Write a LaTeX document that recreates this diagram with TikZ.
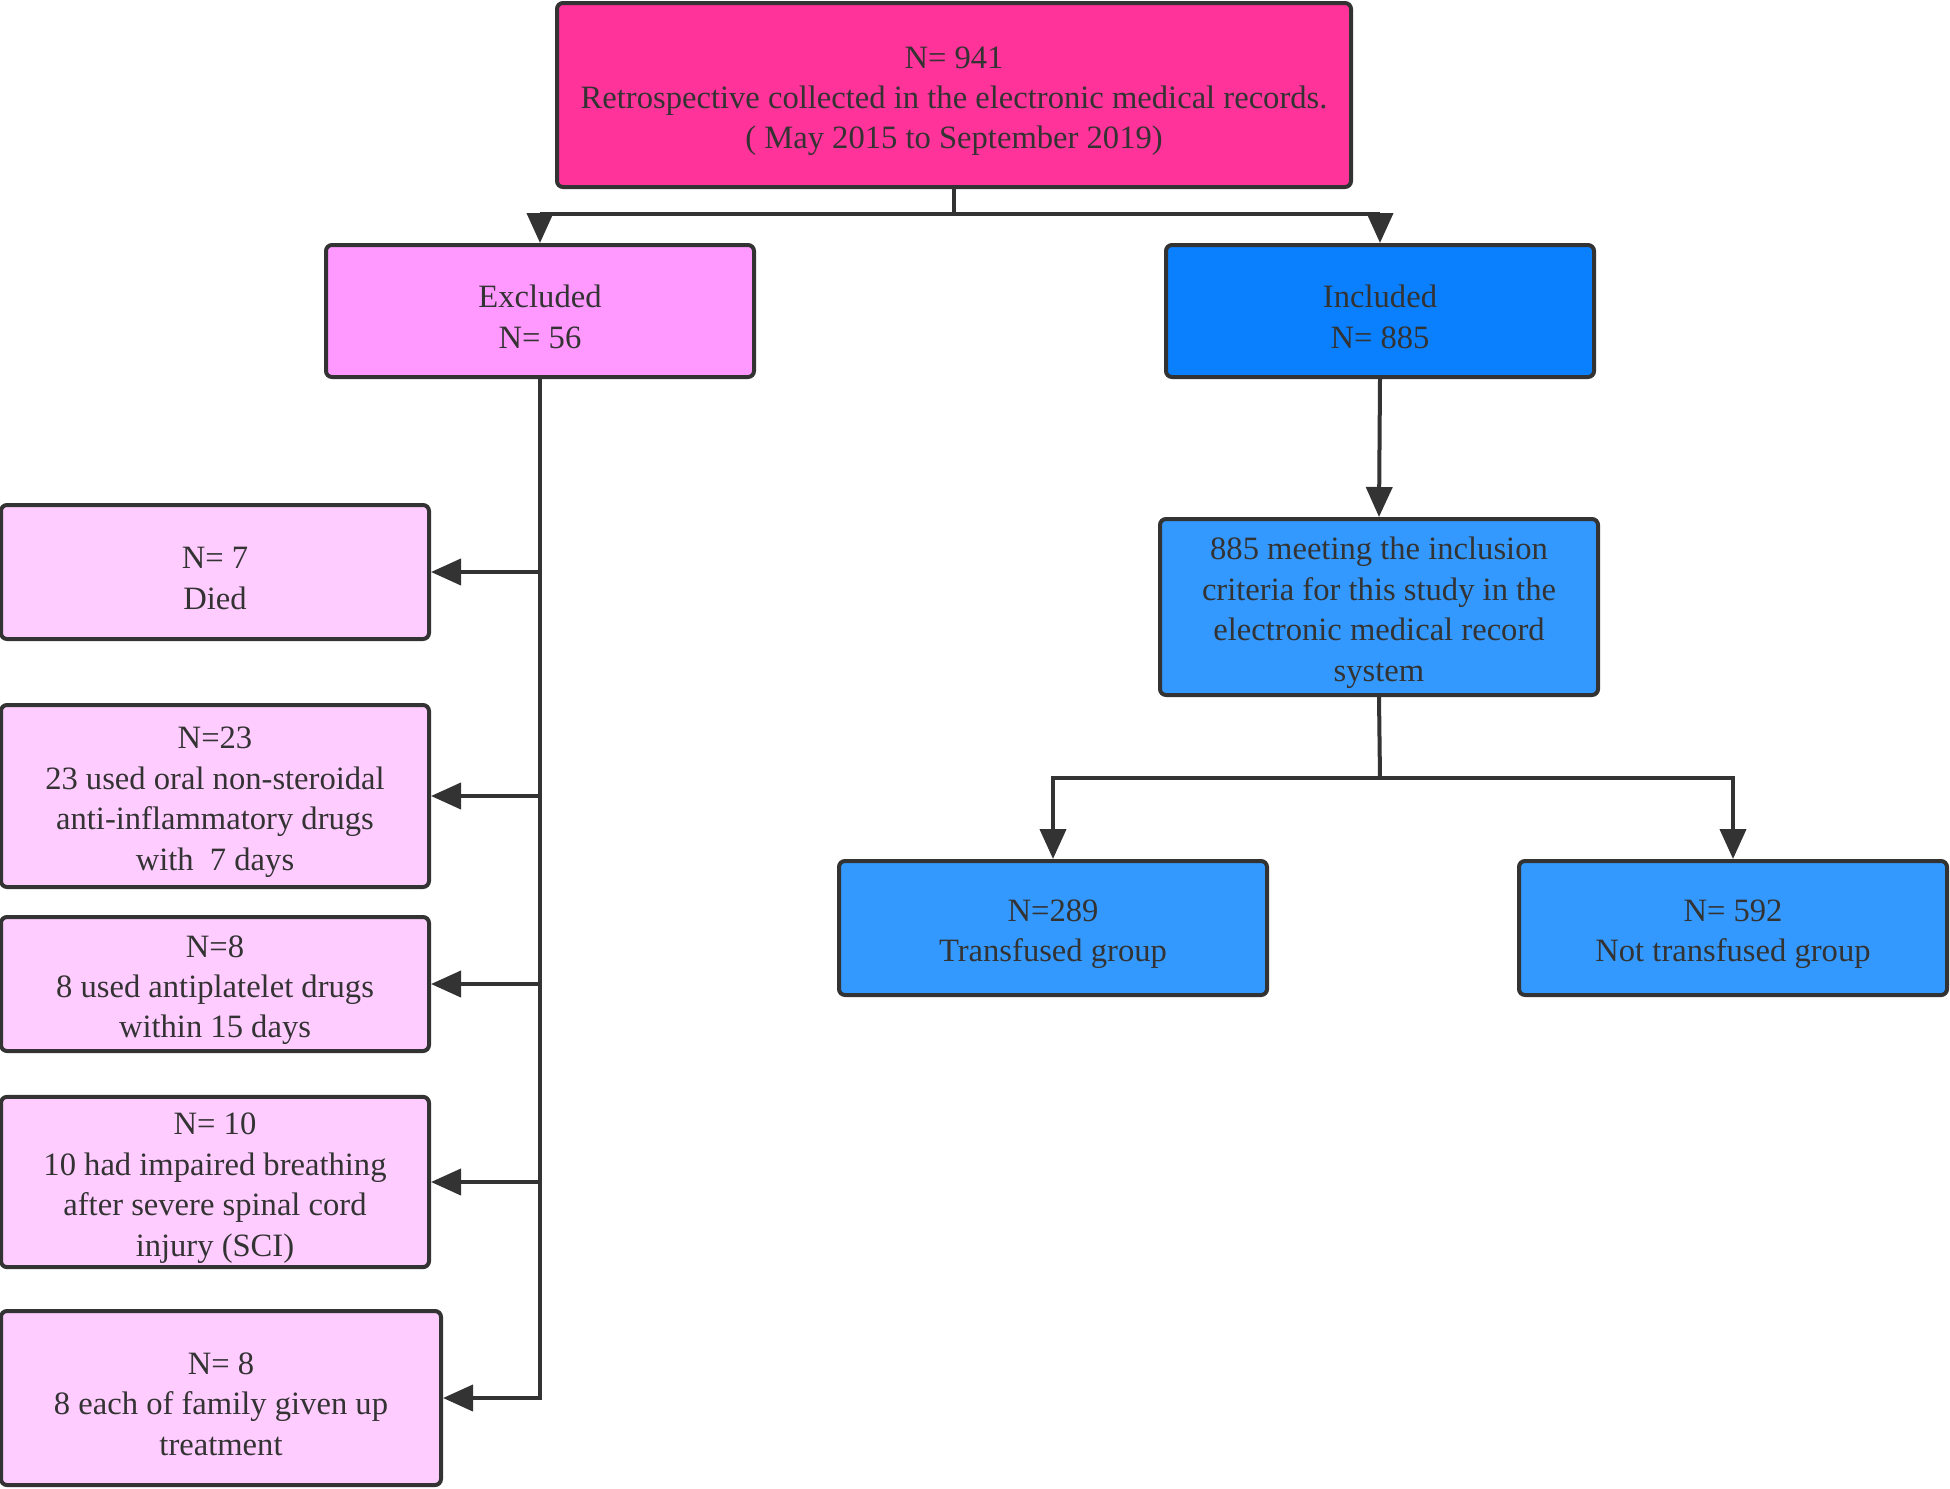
\documentclass[tikz,border=0pt]{standalone}
\usepackage{fontspec}
\setmainfont{Liberation Serif}
\usepackage{tikz}
\usetikzlibrary{arrows.meta}
\definecolor{linegray}{HTML}{333333}
\definecolor{hotpink}{HTML}{FF3399}
\definecolor{exclpink}{HTML}{FF99FF}
\definecolor{lightpink}{HTML}{FFCCFF}
\definecolor{inclblue}{HTML}{0A80FF}
\definecolor{midblue}{HTML}{3399FF}
% pushes the lines of a box a little lower
\newcommand{\lowtext}{\rule{0pt}{17pt}}
\tikzset{
    flowbox/.style={draw=linegray, line width=2pt, rounded corners=3pt, align=center,
        text=linegray, font=\fontsize{16.3}{20.2}\selectfont, inner sep=2pt},
    arr/.style={draw=linegray, line width=2pt, -{Triangle[length=15pt,width=13pt]}},
    plain/.style={draw=linegray, line width=2pt}
}
\begin{document}
\begin{tikzpicture}[x=0.5pt,y=-0.5pt]
\useasboundingbox (0,0) rectangle (1950,1489);

\node[flowbox, fill=hotpink, minimum width=397pt, minimum height=92pt] (top) at (954,95)
    {\lowtext N= 941\\Retrospective collected in the electronic medical records.\\( May 2015 to September 2019)};

\node[flowbox, fill=exclpink, minimum width=214pt, minimum height=66pt] (excl) at (540,311) {\lowtext Excluded\\N= 56};
\node[flowbox, fill=inclblue, minimum width=214pt, minimum height=66pt] (incl) at (1380,311) {\lowtext Included\\N= 885};

\node[flowbox, fill=lightpink, minimum width=214pt, minimum height=67pt] (died) at (215,572) {\lowtext N= 7\\Died};
\node[flowbox, fill=lightpink, minimum width=214pt, minimum height=91pt] (nsaid) at (215,796)
    {\lowtext N=23\\23 used oral non-steroidal\\anti-inflammatory drugs\\with\ \ 7 days};
\node[flowbox, fill=lightpink, minimum width=214pt, minimum height=67pt] (antip) at (215,984)
    {\lowtext N=8\\8 used antiplatelet drugs\\within 15 days};
\node[flowbox, fill=lightpink, minimum width=214pt, minimum height=85pt] (breath) at (215,1182)
    {\lowtext N= 10\\10 had impaired breathing\\after severe spinal cord\\injury (SCI)};
\node[flowbox, fill=lightpink, minimum width=220pt, minimum height=87pt] (family) at (221,1398)
    {\lowtext N= 8\\8 each of family given up\\treatment};

\node[flowbox, fill=midblue, minimum width=219pt, minimum height=88pt] (crit) at (1379,607)
    {\lowtext 885 meeting the inclusion\\criteria for this study in the\\electronic medical record\\system};
\node[flowbox, fill=midblue, minimum width=214pt, minimum height=67pt] (transf) at (1053,928) {\lowtext N=289\\Transfused group};
\node[flowbox, fill=midblue, minimum width=214pt, minimum height=67pt] (nottr) at (1733,928) {\lowtext N= 592\\Not transfused group};

\coordinate (split) at (954,214);
\coordinate (fork) at (1380,778);

% top split
\draw[plain] (top.south) -- (split);
\draw[arr] (split) -| (excl.north);
\draw[arr] (split) -| (incl.north);

% excluded branch
\draw[arr] (excl.south) |- (family.east);
\draw[arr] (excl.south |- died.east) -- (died.east);
\draw[arr] (excl.south |- nsaid.east) -- (nsaid.east);
\draw[arr] (excl.south |- antip.east) -- (antip.east);
\draw[arr] (excl.south |- breath.east) -- (breath.east);

% included branch
\draw[arr] (incl.south) -- (crit.north);
\draw[plain] (crit.south) -- (fork);
\draw[arr] (fork) -| (transf.north);
\draw[arr] (fork) -| (nottr.north);
\end{tikzpicture}
\end{document}
